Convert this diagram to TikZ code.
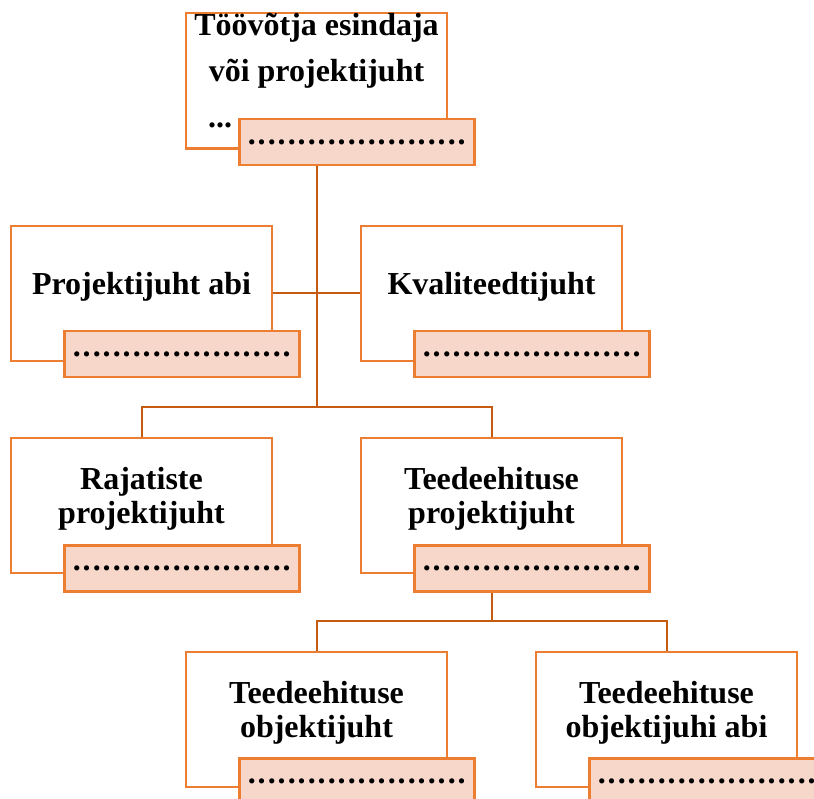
\documentclass[tikz,border=0pt]{standalone}
\usepackage{fontspec}
\setmainfont{Liberation Serif}
\usepackage{xcolor}
\usepackage{tikz}
\usetikzlibrary{positioning,backgrounds}
\definecolor{boxorange}{HTML}{ED7D31}
\definecolor{lineorange}{HTML}{C55A11}
\definecolor{pinkfill}{HTML}{F8D7CB}
\newcommand{\dotrow}{\hbox to 220pt{\xleaders\hbox to 10pt{\hss.\hss}\hfil}}

\begin{document}
\begin{tikzpicture}[x=1pt, y=-1pt,
    every node/.style={font=\fontsize{32pt}{34pt}\selectfont\bfseries, align=center},
    post/.style={rectangle, draw=boxorange, line width=2.5pt, fill=white,
                 minimum width=261pt, minimum height=135pt, text depth=21pt,
                 inner sep=0pt, outer sep=0pt},
    namebox/.style={rectangle, draw=boxorange, line width=2.5pt, fill=pinkfill,
                    minimum width=235pt, minimum height=46pt, inner sep=0pt},
    link/.style={draw=lineorange, line width=2pt},
  ]
    \useasboundingbox (0,0) rectangle (814,799);

    \node[post, anchor=north west, font=\fontsize{32pt}{46pt}\selectfont\bfseries]
                                              (top) at (186,13)
      {Töövõtja esindaja\\ või projektijuht\\ \hbox to 217pt{...\hss}};
    \node[namebox, below right=105pt and 52pt of top.north west] (top-n) {\dotrow};

    \node[post, anchor=north west]            (pa)  at (11,226) {Projektijuht abi};
    \node[namebox, below right=104pt and 52pt of pa.north west]  (pa-n)  {\dotrow};
    \node[post, right=89pt of pa]             (kv)  {Kvaliteedtijuht};
    \node[namebox, below right=104pt and 52pt of kv.north west]  (kv-n)  {\dotrow};

    \node[post, below=77pt of pa]             (rp)  {Rajatiste\\ projektijuht};
    \node[namebox, below right=106pt and 52pt of rp.north west]  (rp-n)  {\dotrow};
    \node[post, right=89pt of rp]             (tp)  {Teedeehituse\\ projektijuht};
    \node[namebox, below right=106pt and 52pt of tp.north west]  (tp-n)  {\dotrow};

    \node[post, anchor=north west]            (oj)  at (186,652) {Teedeehituse\\ objektijuht};
    \node[namebox, below right=105pt and 52pt of oj.north west]  (oj-n)  {\dotrow};
    \node[post, right=89pt of oj]             (oa)  {Teedeehituse\\ objektijuhi abi};
    \node[namebox, below right=105pt and 52pt of oa.north west]  (oa-n)  {\dotrow};

    \coordinate (j1) at (top.south |- 0,407);
    \coordinate (j2) at (tp.south |- 0,621);

    \begin{scope}[on background layer]
      \draw[link] (top.south) -- (j1);
      \draw[link] (pa) -- (kv);
      \draw[link] (rp.north) |- (j1) -| (tp.north);
      \draw[link] (tp.south) -- (j2);
      \draw[link] (oj.north) |- (j2) -| (oa.north);
    \end{scope}
  \end{tikzpicture}
\end{document}
